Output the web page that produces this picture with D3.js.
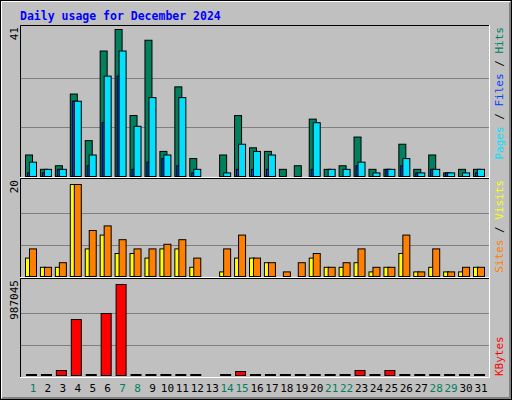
<!DOCTYPE html>
<html><head><meta charset="utf-8">
<script src="https://cdn.jsdelivr.net/npm/d3@7"></script>
<style>body{margin:0;background:#c0c0c0}svg{display:block}</style>
</head><body>
<script>
const days = d3.range(1, 32);
const hits  = [6,2,3,23,10,35,41,17,38,7,25,5,0,6,17,8,7,2,3,16,2,3,11,2,2,9,2,6,1,2,2];
const pages = [4,2,2,21,6,28,35,14,22,6,22,2,0,1,9,7,6,0,0,15,2,2,4,1,2,5,1,2,1,1,2];   // cyan
const files = [1,1,2,21,3,15,28,2,4,5,3,1,0,0,2,2,2,0,0,2,0,0,3,0,2,3,1,2,1,0,1];       // blue
const sites = [4,2,2,20,6,9,5,5,4,6,6,2,0,1,4,4,3,0,0,4,2,2,3,1,2,5,1,2,1,1,2];
const visits= [6,2,3,20,10,11,8,6,6,7,8,4,0,6,9,4,3,1,3,5,2,3,6,2,2,9,1,6,1,2,2];
const kbytes= [2000,2000,54000,607000,2000,672000,987045,2000,2000,2000,2000,2000,0,2000,43000,2000,2000,2000,2000,2000,2000,2000,54000,2000,54000,2000,2000,2000,600,2000,2000];
const weekends = [1,7,8,14,15,21,22,28,29];
const maxHits = 41, maxVisits = 20, maxKB = 987045;

const W=512,H=400, font="'DejaVu Sans Mono', monospace";
const svg=d3.select("body").append("svg").attr("width",W).attr("height",H);
svg.append("rect").attr("width",W).attr("height",H).attr("fill","#c0c0c0");
svg.append("rect").attr("x",0.5).attr("y",0.5).attr("width",W-1).attr("height",H-1).attr("fill","none").attr("stroke","#000");
svg.append("path").attr("d","M1.5,398.5V1.5H510.5").attr("fill","none").attr("stroke","#fff");
svg.append("path").attr("d","M1.5,398.5H510.5V1.5").attr("fill","none").attr("stroke","#808080");
svg.append("path").attr("d","M2.5,397.5H509.5V2.5").attr("fill","none").attr("stroke","#808080");

svg.append("text").attr("x",20).attr("y",20).attr("fill","#0000ff").attr("font-family",font)
  .attr("font-weight","bold").attr("font-size",11.5).text("Daily usage for December 2024");

const x=d3.scaleLinear().domain([1,31]).range([33,481]);
const X0=20,X1=490;
function panel(y0,y1){
  svg.append("rect").attr("x",X0).attr("y",y0).attr("width",X1-X0).attr("height",y1-y0).attr("fill","#c0c0c0");
  const y=d3.scaleLinear().range([y1-1,y0+4]);
  [1/3,2/3].forEach(f=>{const yy=Math.round(y1-1-(y1-y0-5)*f)+0.5;
    svg.append("line").attr("x1",X0).attr("x2",X1).attr("y1",yy).attr("y2",yy).attr("stroke","#808080");});
  return y;
}
function frame(y0,y1){
  svg.append("path").attr("d",`M${X0+0.5},${y1}V${y0+0.5}H${X1}`).attr("fill","none").attr("stroke","#000");
  svg.append("path").attr("d",`M${X0},${y1-0.5}H${X1-0.5}V${y0}`).attr("fill","none").attr("stroke","#fff");
}
function bars(data,y,dx0,dx1,color){
  svg.append("g").selectAll("rect").data(days.filter((d,i)=>data[i]>0)).join("rect")
    .attr("x",d=>x(d)+dx0+0.5).attr("width",dx1-dx0)
    .attr("y",d=>Math.min(y(data[d-1]),y.range()[0]-1)+0.5)
    .attr("height",d=>Math.max(1,y.range()[0]-Math.min(y(data[d-1]),y.range()[0]-1)))
    .attr("fill",color).attr("stroke","#000");
}
// top
let yT=panel(25,177); yT.domain([0,maxHits]).range([176,29]);
bars(hits,yT,-8,-1,"#00805c");
bars(files,yT,-6,-3,"#0040ff");
bars(pages,yT,-4,3,"#00e0ff");
frame(25,178);
// middle
let yM=panel(178,277); yM.domain([0,maxVisits]).range([276,184]);
bars(sites,yM,-8,-3,"#ffff00");
bars(visits,yM,-4,3,"#ff8000");
frame(178,278);
// bottom
let yB=panel(278,377); yB.domain([0,maxKB]).range([375,284]);
bars(kbytes,yB,-7,3,"#ff0000");
frame(278,378);

function vtext(xp,yp,anchor,parts){
  const t=svg.append("text").attr("transform",`translate(${xp},${yp}) rotate(-90)`)
    .attr("text-anchor",anchor).attr("font-family",font).attr("font-size",11);
  parts.forEach(p=>t.append("tspan").attr("fill",p[1]).text(p[0]));
}
vtext(18,27,"end",[[String(maxHits),"#000"]]);
vtext(18,180,"end",[[String(maxVisits),"#000"]]);
vtext(18,280,"end",[[String(maxKB),"#000"]]);
vtext(503,27,"end",[["Pages","#00e0ff"],[" / ","#000"],["Files","#0040ff"],[" / ","#000"],["Hits","#00805c"]]);
vtext(503,180,"end",[["Sites","#ff8000"],[" / ","#000"],["Visits","#ffff00"]]);
vtext(503,376,"start",[["KBytes","#ff0000"]]);

svg.append("g").selectAll("text").data(days).join("text")
  .attr("x",d=>x(d)).attr("y",392).attr("text-anchor","middle")
  .attr("font-family",font).attr("font-size",11)
  .attr("fill",d=>weekends.includes(d)?"#00805c":"#000").text(d=>d);
</script>
</body></html>
